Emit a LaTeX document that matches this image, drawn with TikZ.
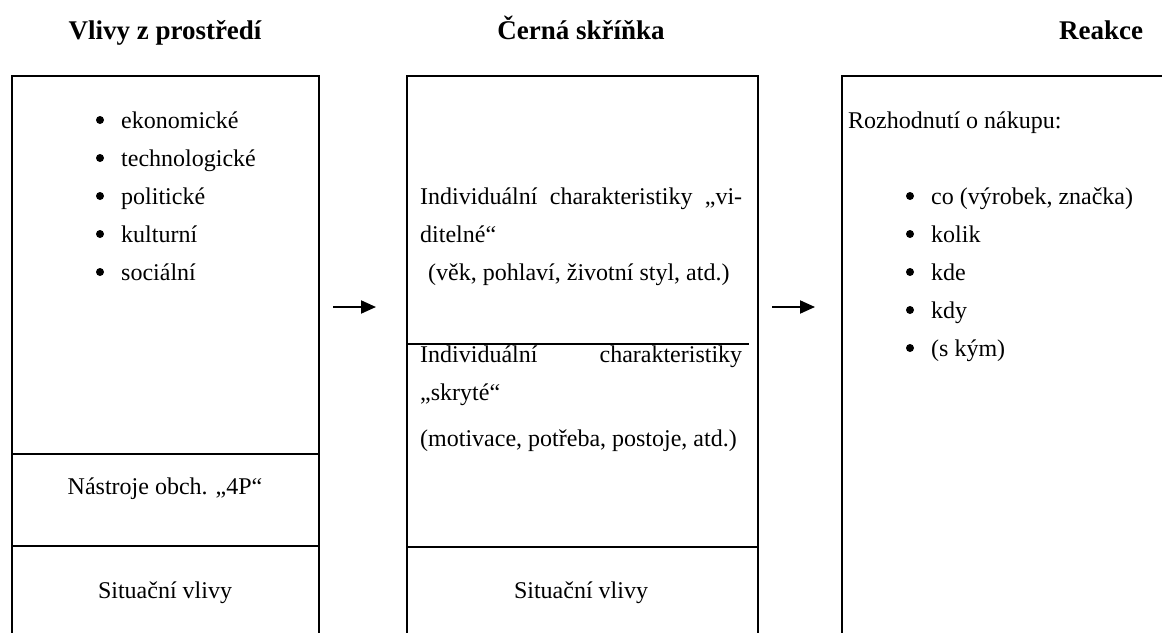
\documentclass[tikz,border=0pt]{standalone}
\usepackage{fontspec}
\setmainfont{Liberation Serif}
\usetikzlibrary{arrows.meta}
\begin{document}
\begin{tikzpicture}[x=1pt,y=-1pt,
  frame/.style={draw, line width=2.2pt, rectangle, inner sep=0pt, anchor=north west},
  sep/.style={line width=2.2pt},
  thinsep/.style={line width=1.2pt},
  txt/.style={font=\fontsize{24}{28}\selectfont, inner sep=0pt},
  ttl/.style={font=\fontsize{27}{32}\selectfont\bfseries, inner sep=0pt, anchor=base},
  bul/.style={circle, fill, inner sep=0pt, minimum size=8pt},
  flow/.style={line width=2pt, -{Triangle[length=15pt,width=13pt]}}]
\useasboundingbox (0,0) rectangle (1162,632);
\fill[white] (0,0) rectangle (1162,632);
% titles
\node[ttl] (t1) at (165,39) {Vlivy z prostředí};
\node[ttl] (t2) at (581,39) {Černá skříňka};
\node[ttl] (t3) at (1101,39) {Reakce};
\begin{scope}
\clip (0,0) rectangle (1162,632);
\node[frame, minimum width=307pt, minimum height=620pt] (env) at (11,75) {};
\node[frame, minimum width=351pt, minimum height=620pt] (blk) at (406,75) {};
\node[frame, minimum width=360pt, minimum height=620pt] (rea) at (841,75) {};
\draw[sep] (env.west |- 0,454) -- (env.east |- 0,454);
\draw[sep] (env.west |- 0,546) -- (env.east |- 0,546);
\draw[sep] (blk.west |- 0,547) -- (blk.east |- 0,547);
\coordinate (tl) at (749,344);
\draw[thinsep] (blk.west |- 0,344) -- (tl);
\end{scope}
% left box (baselines)
\foreach \y/\t [count=\i] in {128/ekonomické,166/technologické,204/politické,242/kulturní,280/sociální}{
  \node[txt, anchor=base west] (lt\i) at (121,\y) {\t};
  \node[bul] (lb\i) at (100,\y-8) {};
}
\node[txt, anchor=base] (tools) at (165,494) {Nástroje obch. „4P“};
\node[txt, anchor=base] (sit1) at (165,598) {Situační vlivy};
% middle box
\node[txt, anchor=base west] (m1) at (420,204) {\makebox[322pt][s]{Individuální charakteristiky „vi-}};
\node[txt, anchor=base west] (m2) at (420,242) {ditelné“};
\node[txt, anchor=base west] (m3) at (428,280) {(věk, pohlaví, životní styl, atd.)};
\node[txt, anchor=base west] (m4) at (420,362) {\makebox[322pt][s]{Individuální charakteristiky}};
\node[txt, anchor=base west] (m5) at (420,400) {„skryté“};
\node[txt, anchor=base west] (m6) at (420,446) {(motivace, potřeba, postoje, atd.)};
\node[txt, anchor=base] (sit2) at (581,598) {Situační vlivy};
% right box
\node[txt, anchor=base west] (r0) at (848,128) {Rozhodnutí o nákupu:};
\foreach \y/\t [count=\i] in {204/{co (výrobek, značka)},242/kolik,280/kde,318/kdy,356/{(s kým)}}{
  \node[txt, anchor=base west] (rt\i) at (931,\y) {\t};
  \node[bul] (rb\i) at (910,\y-8) {};
}
% arrows
\coordinate (a1s) at (333,307);
\coordinate (a1e) at (376,307);
\coordinate (a2s) at (772,307);
\coordinate (a2e) at (815,307);
\draw[flow] (a1s) -- (a1e);
\draw[flow] (a2s) -- (a2e);
\end{tikzpicture}
\end{document}
